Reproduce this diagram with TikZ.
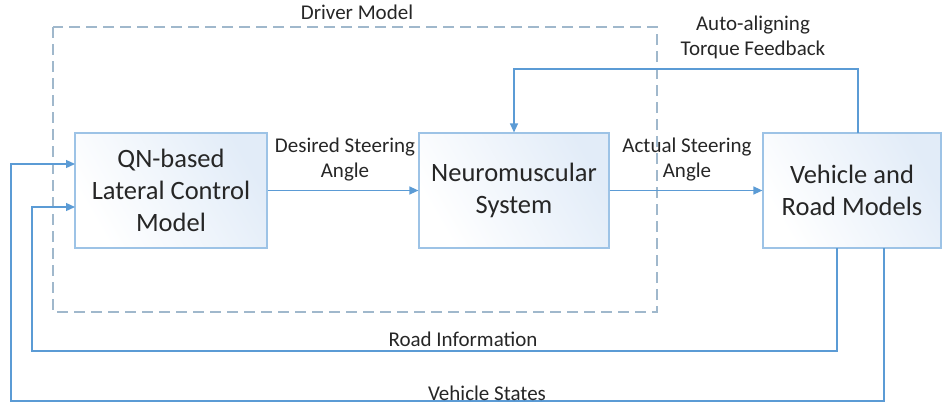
\documentclass[tikz,border=0pt]{standalone}
\usepackage{fontspec}
\setmainfont{Carlito}
\usetikzlibrary{arrows.meta}
\definecolor{lineblue}{RGB}{91,155,213}
\definecolor{boxedge}{RGB}{157,195,230}
\definecolor{dashcol}{RGB}{160,184,204}
\definecolor{fillblue}{RGB}{226,236,248}
\definecolor{txt}{RGB}{38,38,38}
\tikzset{
  blockbox/.style={draw=boxedge, line width=1.2pt, left color=white, right color=fillblue, shading angle=120,
    align=center, font=\fontsize{26.5}{32}\selectfont, text=txt, inner sep=0pt},
  conn/.style={draw=lineblue, line width=1.3pt},
  arr/.style={conn, -{Triangle[width=8pt,length=9pt]}},
  lbl/.style={font=\fontsize{21}{25}\selectfont, text=txt, align=center, inner sep=0pt}
}
\begin{document}
\begin{tikzpicture}[x=1pt,y=-1pt]
\useasboundingbox (0,0) rectangle (942,408);
% driver model dashed box
\draw[dashcol, line width=1.3pt, dash pattern=on 11pt off 6pt] (53,27) rectangle (657,312);
\node[lbl] (dm) at (357,12) {Driver Model};
% blocks
\node[blockbox, minimum width=192pt, minimum height=115pt] (qn) at (171,190.5) {QN-based\\Lateral Control\\Model};
\node[blockbox, minimum width=190pt, minimum height=115pt] (nm) at (514,190.5) {Neuromuscular\\System};
\node[blockbox, minimum width=178pt, minimum height=115pt] (veh) at (852,190.5) {Vehicle and\\Road Models};
% forward connectors
\draw[arr] (qn.east) -- (nm.west);
\draw[arr] (nm.east) -- (veh.west);
% feedback
\coordinate (fb) at (858,133);
\draw[arr] (fb) -- (858,69) -| (nm.north);
% road info
\coordinate (r0) at (837,248);
\coordinate (rin) at (75,207);
\draw[arr] (r0) |- (32,351) |- (rin);
% vehicle states
\coordinate (v0) at (884,248);
\coordinate (vin) at (75,164);
\draw[arr] (v0) |- (11,401) |- (vin);
% labels
\node[lbl] (ds) at (345,159.5) {Desired Steering\\Angle};
\node[lbl] (as) at (687,159.5) {Actual Steering\\Angle};
\node[lbl] (at) at (753,37.5) {Auto-aligning\\Torque Feedback};
\node[lbl] (ri) at (463,339) {Road Information};
\node[lbl] (vs) at (487,393) {Vehicle States};
\end{tikzpicture}
\end{document}
